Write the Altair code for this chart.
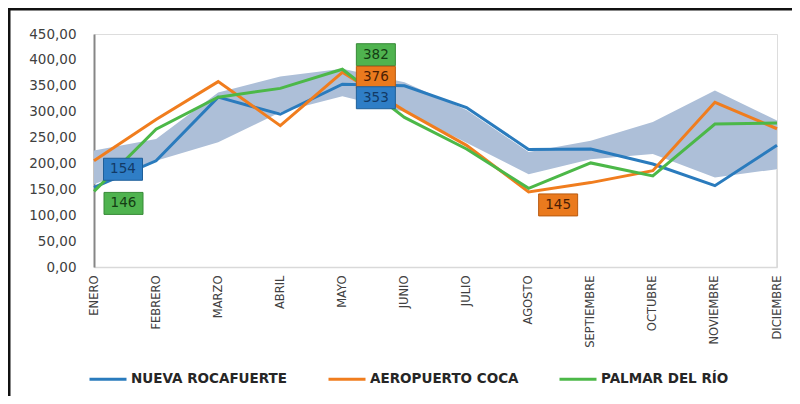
import altair as alt
import pandas as pd

months = ["ENERO", "FEBRERO", "MARZO", "ABRIL", "MAYO", "JUNIO", "JULIO",
          "AGOSTO", "SEPTIEMBRE", "OCTUBRE", "NOVIEMBRE", "DICIEMBRE"]
series_names = ["NUEVA ROCAFUERTE", "AEROPUERTO COCA", "PALMAR DEL RÍO"]
nueva_rocafuerte = [154, 205, 328, 295, 353, 350, 308, 227, 228, 199, 157, 235]
aeropuerto_coca = [205, 285, 358, 273, 376, 302, 235, 145, 163, 186, 318, 267]
palmar_del_rio = [146, 266, 328, 345, 382, 289, 228, 152, 201, 176, 276, 278]
band_upper = [225, 247, 337, 368, 383, 357, 303, 222, 244, 280, 341, 283]
band_lower = [160, 205, 241, 299, 330, 300, 240, 179, 208, 218, 173, 189]
y_ticks = [0, 50, 100, 150, 200, 250, 300, 350, 400, 450]
# highlighted labels: (series, month, value)
label_series = ["NUEVA ROCAFUERTE", "PALMAR DEL RÍO", "PALMAR DEL RÍO",
                "AEROPUERTO COCA", "NUEVA ROCAFUERTE", "AEROPUERTO COCA"]
label_months = ["ENERO", "ENERO", "MAYO", "MAYO", "MAYO", "AGOSTO"]
label_values = [154, 146, 382, 376, 353, 145]

colors = ["#2a7bbd", "#f07d1e", "#4cb848"]
box_fill = {"NUEVA ROCAFUERTE": "#2f7ec6", "AEROPUERTO COCA": "#ea7a1e",
            "PALMAR DEL RÍO": "#4fb34f"}
box_stroke = {"NUEVA ROCAFUERTE": "#1f5f99", "AEROPUERTO COCA": "#b85a10",
              "PALMAR DEL RÍO": "#378a37"}
text_col = {"NUEVA ROCAFUERTE": "#123a66", "AEROPUERTO COCA": "#4a1e05",
            "PALMAR DEL RÍO": "#143d14"}

long_rows = []
for name, vals in zip(series_names, [nueva_rocafuerte, aeropuerto_coca, palmar_del_rio]):
    for m, v in zip(months, vals):
        long_rows.append({"mes": m, "serie": name, "valor": v})
df = pd.DataFrame(long_rows)
band_df = pd.DataFrame({"mes": months, "hi": band_upper, "lo": band_lower})
lab_df = pd.DataFrame({"serie": label_series, "mes": label_months, "valor": label_values})

W, H = 683, 233
xscale = alt.Scale(type="point", domain=months, padding=0)
yscale = alt.Scale(domain=[0, 450], nice=False)
FONT = "DejaVu Sans"

x_axis = alt.Axis(title=None, labelAngle=-90, labelFont=FONT, labelFontSize=11.5,
                  labelColor="#404040", labelPadding=8, ticks=False,
                  labelOverlap=False,
                  domainColor="#d9d9d9", domainWidth=1.5, grid=False)
y_axis = alt.Axis(title=None, values=y_ticks,
                  labelExpr="replace(format(datum.value, '.2f'), '.', ',')",
                  labelFont=FONT, labelFontSize=13.5, labelColor="#404040",
                  labelOverlap=False, labelFlush=False,
                  labelPadding=18, ticks=False, domainColor="#868686",
                  domainWidth=2, grid=False)


def X():
    return alt.X("mes:N", scale=xscale, axis=x_axis, sort=months)


def Y(field):
    return alt.Y(field, scale=yscale, axis=y_axis)


band = alt.Chart(band_df).mark_area(color="#adbfd8", opacity=1).encode(
    x=X(), y=Y("hi:Q"), y2="lo:Q",
)

edge = alt.Chart(band_df[band_df["mes"] == months[-1]]).mark_rule(
    color="#d9d9d9", strokeWidth=1.5).encode(
    x=X(), y=Y("lo:Q"), y2=alt.datum(0),
)

lines = alt.Chart(df).mark_line(strokeWidth=3).encode(
    x=X(), y=Y("valor:Q"),
    color=alt.Color("serie:N", scale=alt.Scale(domain=series_names, range=colors),
                    legend=alt.Legend(title=None, orient="none", direction="horizontal",
                                      legendX=-6, legendY=325, symbolType="stroke",
                                      symbolSize=1369, symbolStrokeWidth=3,
                                      columnPadding=34, labelOffset=3, padding=0,
                                      labelFont=FONT, labelFontSize=13.5,
                                      labelFontWeight="bold", labelColor="#262626",
                                      labelLimit=400)),
    order=alt.Order("serie:N"),
)

# label offsets (pixels) relative to the labelled point
offsets = [(29, -18), (29.5, 12), (33.5, -14.5), (33.5, 5), (33.5, 13.5), (29.5, 13)]
rect_path = "M-1,-0.564H1V0.564H-1Z"
label_layers = []
for i, (dx, dy) in enumerate(offsets):
    sub = lab_df.iloc[[i]]
    s = label_series[i]
    box = alt.Chart(sub).mark_point(shape=rect_path, size=1521, filled=True,
                                    fill=box_fill[s], stroke=box_stroke[s],
                                    strokeWidth=1, opacity=1,
                                    xOffset=dx, yOffset=dy).encode(
        x=X(), y=Y("valor:Q"),
    )
    txt = alt.Chart(sub).mark_text(font=FONT, fontSize=13.5, color=text_col[s],
                                   dx=dx, dy=dy, baseline="middle", align="center").encode(
        x=X(), y=Y("valor:Q"),
        text=alt.Text("valor:Q", format="d"),
    )
    label_layers += [box, txt]

frame_df = pd.DataFrame({"k": [0]})
frame_top = alt.Chart(frame_df).mark_rule(color="#111111", strokeWidth=3).encode(
    x=alt.value(-86), x2=alt.value(700), y=alt.value(-25))
frame_left = alt.Chart(frame_df).mark_rule(color="#111111", strokeWidth=3).encode(
    x=alt.value(-85), y=alt.value(-26), y2=alt.value(370))

chart = alt.layer(band, edge, lines, *label_layers, frame_top, frame_left).properties(
    width=W, height=H,
    padding={"left": 86, "top": 26, "right": 15, "bottom": 129},
    autosize=alt.AutoSizeParams(type="none"),
).configure_view(stroke=None).configure(background="white")

chart.save("out.html", embed_options={"renderer": "svg", "actions": False})
